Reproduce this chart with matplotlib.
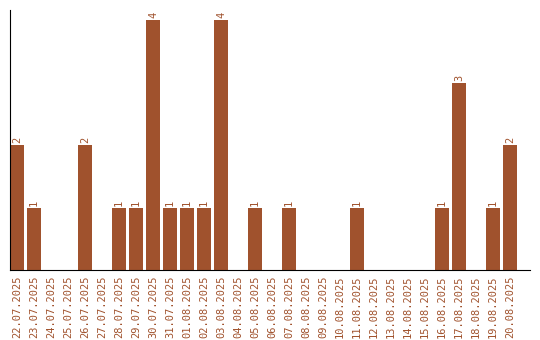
import matplotlib
matplotlib.use('Agg')
import matplotlib.pyplot as plt

# dados
dates = ['22.07.2025', '23.07.2025', '24.07.2025', '25.07.2025', '26.07.2025',
         '27.07.2025', '28.07.2025', '29.07.2025', '30.07.2025', '31.07.2025',
         '01.08.2025', '02.08.2025', '03.08.2025', '04.08.2025', '05.08.2025',
         '06.08.2025', '07.08.2025', '08.08.2025', '09.08.2025', '10.08.2025',
         '11.08.2025', '12.08.2025', '13.08.2025', '14.08.2025', '15.08.2025',
         '16.08.2025', '17.08.2025', '18.08.2025', '19.08.2025', '20.08.2025']
counts = [2, 1, 0, 0, 2, 0, 1, 1, 4, 1,
          1, 1, 4, 0, 1, 0, 1, 0, 0, 0,
          1, 0, 0, 0, 0, 1, 3, 0, 1, 2]

cor = '#A0522D'

fig = plt.figure(figsize=(5.4, 3.4), dpi=100)
ax = fig.add_axes([10/540, 1 - 270/340, 520/540, 260/340])

x = range(len(dates))
bars = ax.bar(x, counts, width=0.82, color=cor)

for i, v in enumerate(counts):
    if v > 0:
        ax.text(i, v + 0.03, str(v), rotation=90, ha='center', va='bottom',
                color=cor, fontsize=7.5, family='DejaVu Sans Mono')

ax.set_xlim(-0.41, 30.18)
ax.set_ylim(0, 4.16)
ax.set_xticks(list(x))
ax.set_xticklabels(dates, rotation=90, color=cor, fontsize=7.5,
                   family='DejaVu Sans Mono')
ax.set_yticks([])
ax.tick_params(axis='x', length=0, pad=4)
ax.spines['top'].set_visible(False)
ax.spines['right'].set_visible(False)
ax.spines['left'].set_color('black')
ax.spines['bottom'].set_color('black')

fig.savefig('out.png', dpi=100)
